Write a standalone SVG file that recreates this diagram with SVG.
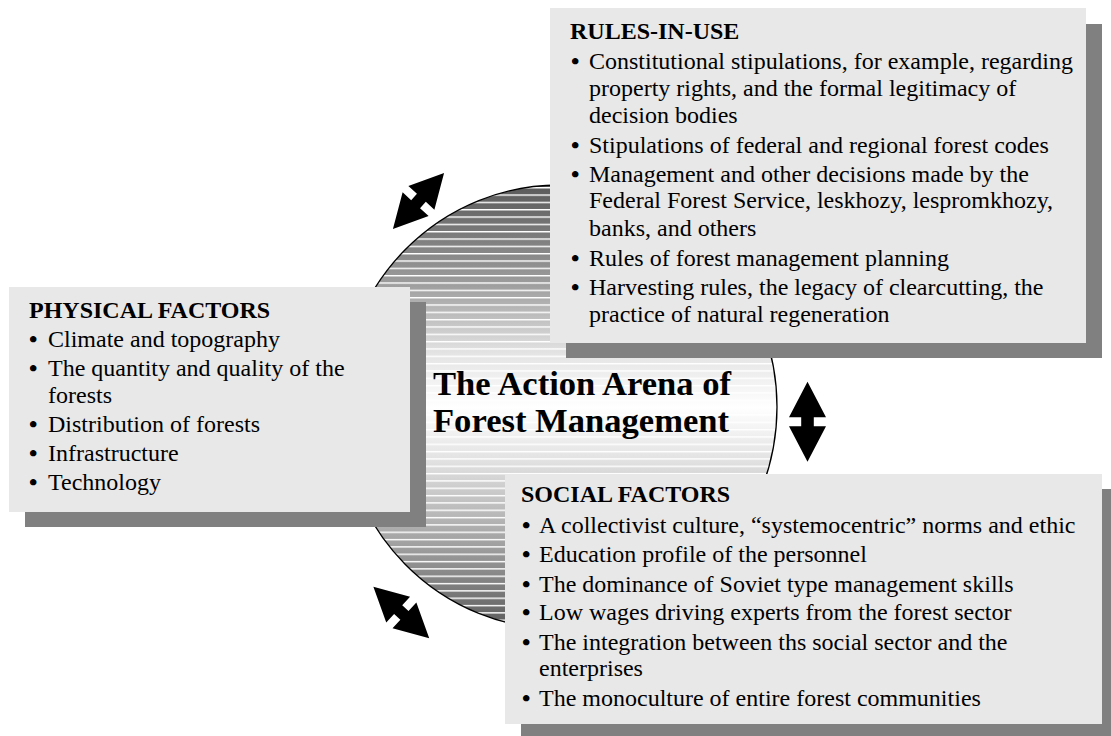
<svg xmlns="http://www.w3.org/2000/svg" width="1111" height="736" viewBox="0 0 1111 736">
<defs>
<linearGradient id="arenaGrad" gradientUnits="userSpaceOnUse" x1="0" y1="185" x2="0" y2="629">
<stop offset="0" stop-color="#5a5a5a"/>
<stop offset="0.22" stop-color="#9c9c9c"/>
<stop offset="0.38" stop-color="#e4e4e4"/>
<stop offset="0.5" stop-color="#ffffff"/>
<stop offset="0.62" stop-color="#e2e2e2"/>
<stop offset="0.8" stop-color="#a4a4a4"/>
<stop offset="1" stop-color="#5a5a5a"/>
</linearGradient>
<pattern id="stripes" patternUnits="userSpaceOnUse" x="0" y="3.8" width="40" height="7.33">
<rect x="0" y="0" width="40" height="1.4" fill="#ffffff"/>
</pattern>
<path id="dblArrow" d="M0,-40 L18.5,-4.5 L6.3,-4.5 L6.3,4.5 L18.5,4.5 L0,40 L-18.5,4.5 L-6.3,4.5 L-6.3,-4.5 L-18.5,-4.5 Z"/>
</defs>
<style>
text{font-family:"Liberation Serif","Times New Roman",Tinos,Times,serif}
.t{font-size:24px;fill:#000}
.b{font-weight:bold}
.h{font-weight:bold}
.box{fill:#e8e8e8}
.shadow{fill:#808080}
.title{font-size:34.6px;font-weight:bold;fill:#000}
.arrow{fill:#000}
</style>
<rect width="1111" height="736" fill="#ffffff"/>

<g id="arena">
<ellipse cx="559" cy="407" rx="218" ry="222" fill="url(#arenaGrad)"/>
<ellipse cx="559" cy="407" rx="218" ry="222" fill="url(#stripes)"/>
<ellipse cx="559" cy="407" rx="218" ry="222" fill="none" stroke="#000" stroke-width="1.3"/>
<text class="title" x="433" y="395">The Action Arena of</text>
<text class="title" x="433" y="432">Forest Management</text>
</g>

<g id="connectors">
<use href="#dblArrow" class="arrow" transform="translate(418.5,201) rotate(42.3) scale(0.95)"/>
<use href="#dblArrow" class="arrow" transform="translate(807.5,421.7)"/>
<use href="#dblArrow" class="arrow" transform="translate(401.3,612.5) rotate(-47.3) scale(0.95)"/>
</g>

<g id="physical">
<rect class="shadow" x="25" y="302" width="401" height="225"/>
<rect class="box" x="9" y="287" width="401" height="225"/>
<text class="t h" x="29" y="318">PHYSICAL FACTORS</text>
<text class="t"><tspan class="b" x="29" y="347">•</tspan><tspan x="48" y="347">Climate and topography</tspan></text>
<text class="t"><tspan class="b" x="29" y="376">•</tspan><tspan x="48" y="376">The quantity and quality of the</tspan><tspan x="48" y="403">forests</tspan></text>
<text class="t"><tspan class="b" x="29" y="432">•</tspan><tspan x="48" y="432">Distribution of forests</tspan></text>
<text class="t"><tspan class="b" x="29" y="461">•</tspan><tspan x="48" y="461">Infrastructure</tspan></text>
<text class="t"><tspan class="b" x="29" y="490">•</tspan><tspan x="48" y="490">Technology</tspan></text>
</g>

<g id="rules">
<rect class="shadow" x="566" y="24" width="536" height="334"/>
<rect class="box" x="550" y="8" width="536" height="335"/>
<text class="t h" x="570" y="39">RULES-IN-USE</text>
<text class="t"><tspan class="b" x="571" y="69">•</tspan><tspan x="589" y="69">Constitutional stipulations, for example, regarding</tspan><tspan x="589" y="96">property rights, and the formal legitimacy of</tspan><tspan x="589" y="123">decision bodies</tspan></text>
<text class="t"><tspan class="b" x="571" y="153">•</tspan><tspan x="589" y="153">Stipulations of federal and regional forest codes</tspan></text>
<text class="t"><tspan class="b" x="571" y="182">•</tspan><tspan x="589" y="182">Management and other decisions made by the</tspan><tspan x="589" y="208">Federal Forest Service, leskhozy, lespromkhozy,</tspan><tspan x="589" y="236">banks, and others</tspan></text>
<text class="t"><tspan class="b" x="571" y="266">•</tspan><tspan x="589" y="266">Rules of forest management planning</tspan></text>
<text class="t"><tspan class="b" x="571" y="295">•</tspan><tspan x="589" y="295">Harvesting rules, the legacy of clearcutting, the</tspan><tspan x="589" y="322">practice of natural regeneration</tspan></text>
</g>

<g id="social">
<rect class="shadow" x="521" y="489" width="600" height="260"/>
<rect class="box" x="505" y="474" width="597" height="250"/>
<text class="t h" x="521" y="502">SOCIAL FACTORS</text>
<text class="t"><tspan class="b" x="522" y="533">•</tspan><tspan x="539" y="533">A collectivist culture, “systemocentric” norms and ethic</tspan></text>
<text class="t"><tspan class="b" x="522" y="562">•</tspan><tspan x="539" y="562">Education profile of the personnel</tspan></text>
<text class="t"><tspan class="b" x="522" y="592">•</tspan><tspan x="539" y="592">The dominance of Soviet type management skills</tspan></text>
<text class="t"><tspan class="b" x="522" y="620">•</tspan><tspan x="539" y="620">Low wages driving experts from the forest sector</tspan></text>
<text class="t"><tspan class="b" x="522" y="650">•</tspan><tspan x="539" y="650">The integration between ths social sector and the</tspan><tspan x="539" y="676">enterprises</tspan></text>
<text class="t"><tspan class="b" x="522" y="706">•</tspan><tspan x="539" y="706">The monoculture of entire forest communities</tspan></text>
</g>
</svg>
